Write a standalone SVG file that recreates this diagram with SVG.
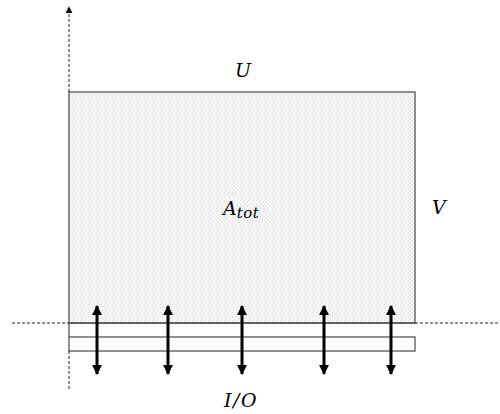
<svg xmlns="http://www.w3.org/2000/svg" width="500" height="414" viewBox="0 0 500 414">
<style>
.lbl{font-family:"DejaVu Serif","Liberation Serif",serif;font-style:italic;font-size:19px;fill:#000}
.sub{font-size:15px}
.box{stroke:#555;stroke-width:1.3;fill:none}
.dash{stroke:#222;stroke-width:1;stroke-dasharray:3,2;fill:none}
.io{stroke:#000;stroke-width:3;fill:none}
</style>
<defs>
<pattern id="dots" width="4" height="4" patternUnits="userSpaceOnUse">
<rect width="4" height="4" fill="#f6f6f6"/>
<rect x="0" y="0" width="1" height="1" fill="#d9d9d9"/>
<rect x="2" y="2" width="1" height="1" fill="#d9d9d9"/>
</pattern>
<marker id="ah" viewBox="0 0 10 10" refX="9" refY="5" markerWidth="3.3" markerHeight="3.3" orient="auto-start-reverse">
<path d="M0,0 L10,5 L0,10 Z" fill="#000"/>
</marker>
<marker id="axh" viewBox="0 0 10 10" refX="9" refY="5" markerWidth="7" markerHeight="7" markerUnits="userSpaceOnUse" orient="auto">
<path d="M0,0 L10,5 L0,10 Z" fill="#000"/>
</marker>
</defs>
<rect width="500" height="414" fill="#fff"/>
<g id="area">
<rect x="69" y="92" width="346" height="231" fill="url(#dots)" stroke="#555" stroke-width="1.3"/>
</g>
<g id="strip">
<line x1="69" y1="323" x2="415" y2="323" class="box"/>
<rect x="69" y="337" width="346" height="14" class="box"/>
<line x1="69" y1="323" x2="69" y2="337" class="box"/>
</g>
<g id="axes">
<line x1="69" y1="351" x2="69" y2="390" class="dash"/>
<line x1="69" y1="92" x2="69" y2="7" class="dash" marker-end="url(#axh)"/>
<line x1="12" y1="323" x2="69" y2="323" class="dash"/>
<line x1="415" y1="323" x2="499" y2="323" class="dash"/>
</g>
<g id="connectors">
<line x1="97" y1="306" x2="97" y2="374" class="io" marker-start="url(#ah)" marker-end="url(#ah)"/>
<line x1="168" y1="306" x2="168" y2="374" class="io" marker-start="url(#ah)" marker-end="url(#ah)"/>
<line x1="242" y1="306" x2="242" y2="374" class="io" marker-start="url(#ah)" marker-end="url(#ah)"/>
<line x1="324" y1="306" x2="324" y2="374" class="io" marker-start="url(#ah)" marker-end="url(#ah)"/>
<line x1="391" y1="306" x2="391" y2="374" class="io" marker-start="url(#ah)" marker-end="url(#ah)"/>
</g>
<g id="labels">
<text x="235" y="77" class="lbl">U</text>
<text x="223" y="215" class="lbl">A<tspan class="sub" dy="3" letter-spacing="0.5">tot</tspan></text>
<text x="432" y="214" class="lbl">V</text>
<text x="224" y="407" class="lbl" letter-spacing="1.5">I/O</text>
</g>
</svg>
